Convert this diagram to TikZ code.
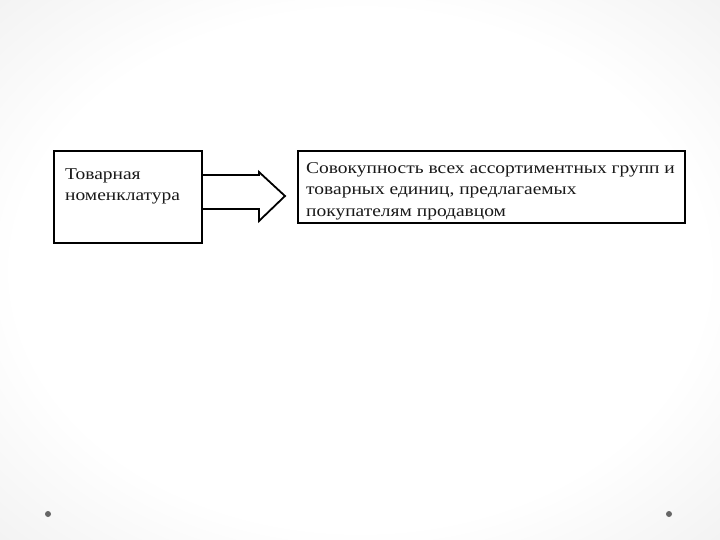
\documentclass[tikz,border=0pt]{standalone}
\usepackage{fontspec}
\setmainfont{Liberation Serif}[FakeStretch=1.18]
\usetikzlibrary{positioning}

\pgfdeclareradialshading{slideback}{\pgfpoint{0bp}{0bp}}{%
  color(0bp)=(white); color(24bp)=(white); color(36bp)=(black!5);
  color(50bp)=(black!20)}

\begin{document}
\begin{tikzpicture}[
  x=1pt, y=-1pt,
  font=\fontsize{16.5}{21.5}\selectfont,
  box/.style={draw=black, line width=2pt, fill=white, inner sep=0pt},
  txt/.style={align=left, inner sep=0pt, text=black!90}]

% slide background
\useasboundingbox (0,0) rectangle (720,540);
\shade[shading=slideback] (0,0) rectangle (720,540);
\fill[black!60] (48,514) circle (3);
\fill[black!60] (669,514) circle (3);

% boxes
\node[box, minimum width=148, minimum height=92, anchor=north west] at (53,150) (nomen){};
\node[box, minimum width=387, minimum height=72, anchor=north west] at (297,150) (defin){};

% block arrow between the boxes
\draw[line width=1.8pt, fill=white, line join=miter]
  ([yshift=22]nomen.east) -- ([xshift=56, yshift=22]nomen.east)
  -- ([xshift=56, yshift=25]nomen.east) -- ([xshift=82, yshift=1]nomen.east)
  -- ([xshift=56, yshift=-24]nomen.east) -- ([xshift=56, yshift=-12]nomen.east)
  -- ([yshift=-12]nomen.east);

% texts
\node[txt, anchor=north west] at ([xshift=12, yshift=-18]nomen.north west) (nomentxt){
Товарная\\
номенклатура};
\node[txt, anchor=north west] at ([xshift=9, yshift=-12]defin.north west) (defintxt){
Совокупность всех ассортиментных групп и\\
товарных единиц, предлагаемых\\
покупателям продавцом};

\end{tikzpicture}
\end{document}
